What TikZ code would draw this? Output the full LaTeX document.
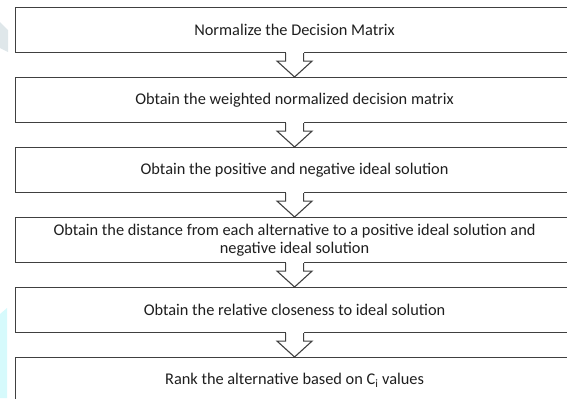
\documentclass[tikz,border=0pt]{standalone}
\usepackage{fontspec}
\setmainfont{Carlito}
\usetikzlibrary{calc}
\definecolor{boxline}{HTML}{404040}
\definecolor{txt}{HTML}{1E1E1E}
\definecolor{wmgray}{HTML}{DFE7EA}
\definecolor{wmcyan}{HTML}{D6FAFC}
\begin{document}
\begin{tikzpicture}[x=1bp,y=-1bp,
  stepbox/.style={draw=boxline,line width=1.1bp,minimum width=558bp,minimum height=45bp,
     inner sep=0pt,text=txt,font=\fontsize{16.4}{18.5}\selectfont,align=center,anchor=north west},
  blockarrow/.style={draw=boxline,line width=1.1bp,fill=white,line join=miter}]
\useasboundingbox (0,0) rectangle (567,398);
% watermark marks at left edge
\fill[wmgray] (0,22) -- (8,30) -- (8,52) -- (0,48) -- cycle;
\fill[wmcyan] (0,314) -- (7,308) -- (7,398) -- (0,398) -- cycle;
% boxes
\node[stepbox] (b1) at (15,7)   {Normalize the Decision Matrix};
\node[stepbox] (b2) at (15,77)  {Obtain the weighted normalized decision matrix};
\node[stepbox] (b3) at (15,147) {Obtain the positive and negative ideal solution};
\node[stepbox] (b4) at (15,217) {Obtain the distance from each alternative to a positive ideal solution and\\negative ideal solution};
\node[stepbox] (b5) at (15,287) {Obtain the relative closeness to ideal solution};
\node[stepbox] (b6) at (15,357) {Rank the alternative based on C\textsubscript{i} values};
% block arrows
\foreach \a/\b in {b1/b2,b2/b3,b3/b4,b4/b5,b5/b6}{
  \coordinate (s) at (\a.south);
  \coordinate (t) at (\b.north);
  \fill[white] ($(s)+(-9,-1)$) rectangle ($(s)+(9,8)$);
  \draw[blockarrow] ($(s)+(-9,0)$) -- ($(s)+(-9,8)$) -- ($(s)+(-17.5,8)$) -- (t)
     -- ($(s)+(17.5,8)$) -- ($(s)+(9,8)$) -- ($(s)+(9,0)$);
}
\end{tikzpicture}
\end{document}
